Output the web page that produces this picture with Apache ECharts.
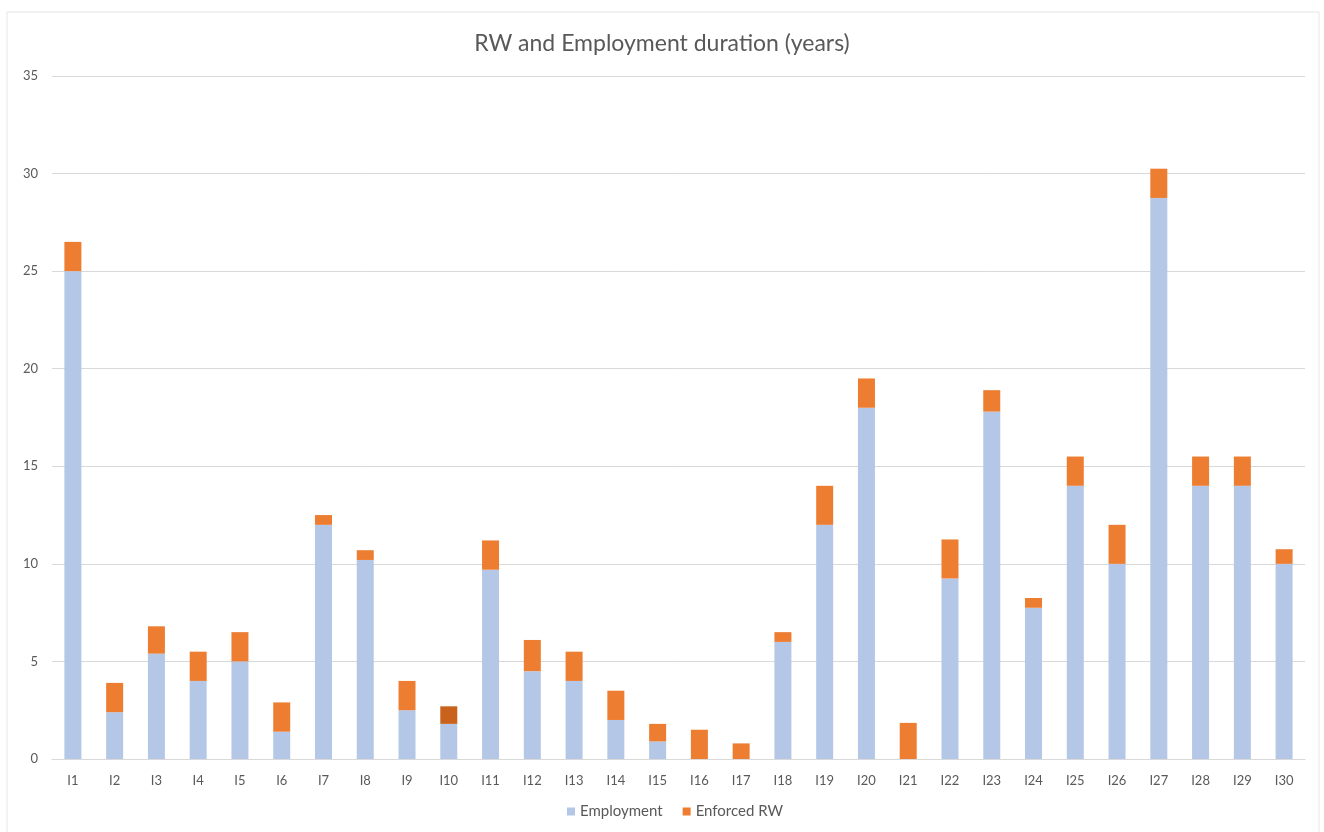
<!DOCTYPE html>
<html>
<head>
<meta charset="utf-8">
<script src="https://cdn.jsdelivr.net/npm/echarts@6/dist/echarts.min.js"></script>
<style>
  html, body { margin: 0; padding: 0; background: #ffffff; }
  #chart { width: 1324px; height: 832px; }
</style>
</head>
<body>
<div id="chart"></div>
<script>
// Interview participants I1..I30
const categories = ['I1','I2','I3','I4','I5','I6','I7','I8','I9','I10',
  'I11','I12','I13','I14','I15','I16','I17','I18','I19','I20',
  'I21','I22','I23','I24','I25','I26','I27','I28','I29','I30'];

// Years in employment
const employment = [25, 2.4, 5.4, 4, 5, 1.4, 12, 10.2, 2.5, 1.8,
  9.7, 4.5, 4, 2, 0.9, 0, 0, 6, 12, 18,
  0, 9.25, 17.8, 7.75, 14, 10, 28.75, 14, 14, 10];

// Years of enforced RW stacked on top
const enforcedRW = [1.5, 1.5, 1.4, 1.5, 1.5, 1.5, 0.5, 0.5, 1.5, 0.9,
  1.5, 1.6, 1.5, 1.5, 0.9, 1.5, 0.8, 0.5, 2, 1.5,
  1.85, 2, 1.1, 0.5, 1.5, 2, 1.5, 1.5, 1.5, 0.75];

const yTicks = [0, 5, 10, 15, 20, 25, 30, 35];

const FONT = 'Lato, "Open Sans", sans-serif';
const TEXT = '#595959';
const BLUE = '#B4C7E7';
const ORANGE = '#ED7D31';
const ORANGE_DARK = '#C9621C';

const chart = echarts.init(document.getElementById('chart'), null, { renderer: 'canvas' });

chart.setOption({
  animation: false,
  backgroundColor: '#ffffff',
  graphic: [{
    type: 'rect',
    shape: { x: 7, y: 12, width: 1312, height: 830 },
    style: { fill: 'none', stroke: '#E6E6E6', lineWidth: 1 },
    silent: true,
    z: -1
  }],
  title: {
    text: 'RW and Employment duration (years)',
    left: 'center',
    top: 27,
    textStyle: { fontFamily: FONT, fontSize: 23, fontWeight: 'normal', color: TEXT }
  },
  legend: {
    bottom: 8,
    left: 562,
    itemWidth: 8,
    itemHeight: 8,
    itemGap: 20,
    icon: 'rect',
    textStyle: { fontFamily: FONT, fontSize: 15, color: TEXT },
    data: ['Employment', 'Enforced RW']
  },
  grid: { left: 52, right: 19, top: 76, bottom: 73, containLabel: false },
  xAxis: {
    type: 'category',
    data: categories,
    axisLine: { lineStyle: { color: '#D9D9D9', width: 1 } },
    axisTick: { show: false },
    axisLabel: { fontFamily: FONT, fontSize: 13, color: TEXT, margin: 15 }
  },
  yAxis: {
    type: 'value',
    min: yTicks[0],
    max: yTicks[yTicks.length - 1],
    interval: yTicks[1] - yTicks[0],
    axisLine: { show: false },
    axisTick: { show: false },
    axisLabel: { fontFamily: FONT, fontSize: 13, color: TEXT, margin: 14 },
    splitLine: { lineStyle: { color: '#D9D9D9', width: 1 } }
  },
  series: [
    {
      name: 'Employment',
      type: 'bar',
      stack: 'total',
      barWidth: 17,
      itemStyle: { color: BLUE },
      data: employment
    },
    {
      name: 'Enforced RW',
      type: 'bar',
      stack: 'total',
      barWidth: 17,
      itemStyle: { color: ORANGE },
      data: enforcedRW.map((v, i) =>
        categories[i] === 'I10' ? { value: v, itemStyle: { color: ORANGE_DARK } } : v)
    }
  ]
});
</script>
</body>
</html>
